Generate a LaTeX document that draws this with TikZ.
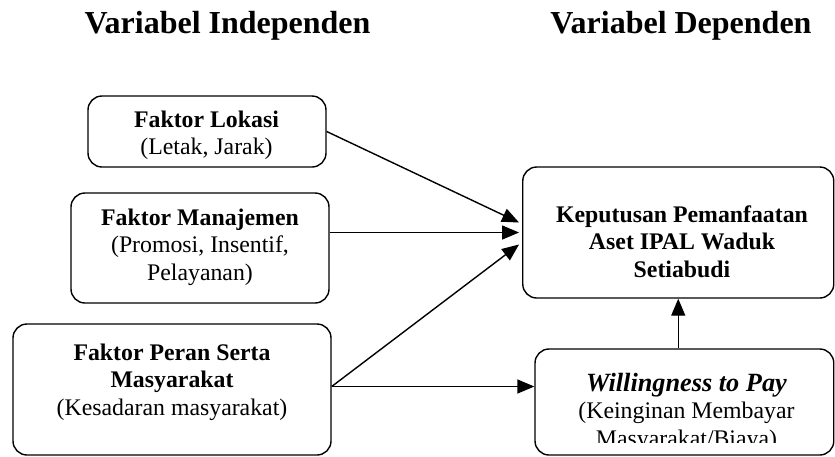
\documentclass[tikz,border=0pt]{standalone}
\usepackage{fontspec}
\setmainfont{Liberation Serif}
\usetikzlibrary{arrows.meta,calc}
\begin{document}
\begin{tikzpicture}[x=1pt,y=-1pt,
  box/.style={draw,line width=1.4pt,rounded corners=14pt,inner sep=0pt},
  txt/.style={align=center,font=\fontsize{23.8}{27.4}\selectfont,inner sep=0pt,anchor=base},
  hdr/.style={font=\fontsize{32}{36}\selectfont\bfseries,inner sep=0pt,anchor=base},
  arr/.style={line width=1.4pt,-{Triangle[length=17pt,width=14pt]}}]
\useasboundingbox (0,0) rectangle (835,456);
% headers
\node[hdr] (h1) at (227.5,33) {Variabel Independen};
\node[hdr] (h2) at (681,33) {Variabel Dependen};
% boxes
\node[box,minimum width=238pt,minimum height=71pt] (b1) at (207,131.5) {};
\node[box,minimum width=258pt,minimum height=110pt] (b2) at (200,248) {};
\node[box,minimum width=318pt,minimum height=131pt] (b3) at (172,389.5) {};
\node[box,minimum width=311pt,minimum height=131pt] (b4) at (678.25,232.5) {};
\node[box,minimum width=298.75pt,minimum height=106pt] (b5) at (684.4,402) {};
% texts
\node[txt] (t1) at (206.5,154.5) {\textbf{Faktor Lokasi}\\(Letak, Jarak)};
\node[txt] (t2) at (200,280) {\textbf{Faktor Manajemen}\\(Promosi, Insentif,\\Pelayanan)};
\node[txt] (t3) at (172,415) {\textbf{Faktor Peran Serta}\\\textbf{Masyarakat}\\(Kesadaran masyarakat)};
\node[txt] (t4) at (682,277) {\textbf{Keputusan Pemanfaatan}\\\textbf{Aset IPAL Waduk}\\\textbf{Setiabudi}};
\begin{scope}
\clip (535,349) rectangle (834,442);
\node[txt] (t5) at (686.5,446) {{\fontsize{26.3}{27.4}\selectfont\bfseries\itshape Willingness to Pay}\\(Keinginan Membayar\\Masyarakat/Biaya)};
\end{scope}
% connectors
\coordinate (p3) at ($(b3.east)+(0,-3)$);
\draw[arr] (b1.east) -- ($(b4.west)+(-3,-10)$);
\draw[arr] (b2.east |- b4.west) -- ($(b4.west)+(-3,0)$);
\draw[arr] (p3) -- ($(b4.west)+(-3,12)$);
\draw[arr] (p3) -- (b5.west |- p3);
\draw[arr] (b4.south |- b5.north) -- (b4.south);
\end{tikzpicture}
\end{document}
